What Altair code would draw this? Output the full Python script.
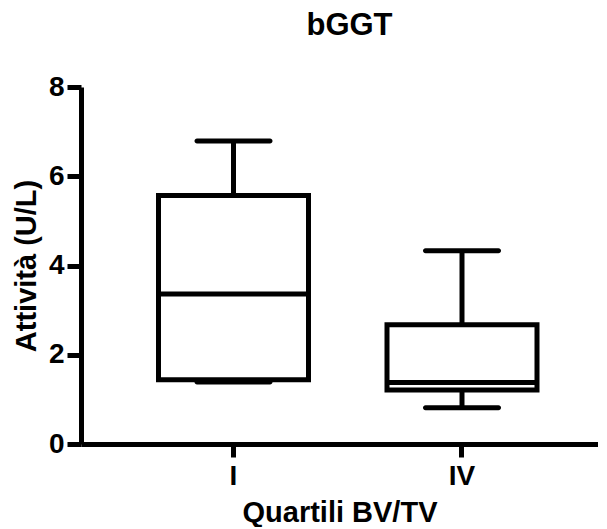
import altair as alt
import pandas as pd

cats = ["I", "IV"]
mins = [1.39, 0.81]
q1 = [1.44, 1.21]
med = [3.36, 1.38]
q3 = [5.57, 2.67]
maxs = [6.79, 4.33]

df = pd.DataFrame({"cat": cats, "min": mins, "q1": q1, "med": med, "q3": q3, "max": maxs})

FONT = "Liberation Sans"

x = alt.X(
    "cat:N",
    sort=cats,
    scale=alt.Scale(type="band", paddingInner=0, paddingOuter=0.1313, align=0.6375),
    axis=alt.Axis(
        title="Quartili BV/TV",
        labelAngle=0,
        tickSize=13,
        labelPadding=5,
        titlePadding=8,
    ),
)
yscale = alt.Scale(domain=[0, 8], nice=False, zero=True)
y_axis = alt.Axis(
    title="Attività (U/L)",
    values=[0, 2, 4, 6, 8],
    tickSize=14,
    labelPadding=3,
    titlePadding=7,
    grid=False,
)

base = alt.Chart(df)

box = base.mark_bar(size=150, fill="white", stroke="black", strokeWidth=5).encode(
    x=x,
    y=alt.Y("q1:Q", scale=yscale, axis=y_axis),
    y2="q3:Q",
)
upper = base.mark_rule(color="black", strokeWidth=5).encode(x=x, y="q3:Q", y2="max:Q")
lower = base.mark_rule(color="black", strokeWidth=5).encode(x=x, y="min:Q", y2="q1:Q")
median = base.mark_tick(size=150, thickness=5, color="black", opacity=1).encode(x=x, y="med:Q")
capmax = base.mark_tick(size=78, thickness=5, color="black", opacity=1, cornerRadius=2.5).encode(x=x, y="max:Q")
capmin = base.mark_tick(size=78, thickness=5, color="black", opacity=1, cornerRadius=2.5).encode(x=x, y="min:Q")

chart = (
    alt.layer(upper, lower, box, median, capmax, capmin)
    .properties(
        width=517,
        height=357,
        title=alt.TitleParams("bGGT", fontSize=31, font=FONT, fontWeight="bold", color="black",
                              frame="group", anchor="middle", dx=10, offset=31),
        padding={"left": 4, "top": 2, "right": 0, "bottom": 0},
    )
    .configure_view(stroke=None)
    .configure_axis(
        domainColor="black",
        domainWidth=5,
        tickColor="black",
        tickWidth=5,
        labelFont=FONT,
        labelFontSize=28,
        labelFontWeight="bold",
        labelColor="black",
        titleFont=FONT,
        titleFontSize=29,
        titleFontWeight="bold",
        titleColor="black",
        grid=False,
    )
)

chart.save("out.html", embed_options={"renderer": "svg", "actions": False})
